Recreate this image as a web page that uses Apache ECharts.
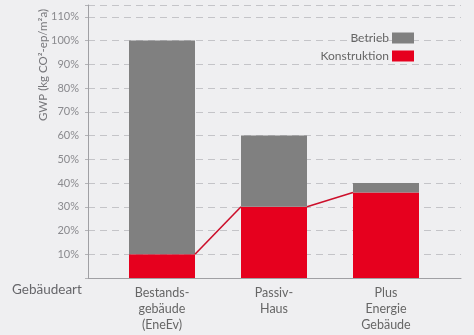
<!DOCTYPE html>
<html>
<head>
<meta charset="utf-8">
<script src="https://cdn.jsdelivr.net/npm/echarts@6/dist/echarts.min.js"></script>
<style>
  html, body { margin: 0; padding: 0; background: #efeff1; }
  #chart { width: 474px; height: 335px; }
</style>
</head>
<body>
<div id="chart"></div>
<script>
// Building types and their global warming potential shares (% of reference)
const categories = ['Bestands-\ngebäude\n(EneEv)', 'Passiv-\nHaus', 'Plus\nEnergie\nGebäude'];
const konstruktion = [10, 30, 36];
const betrieb = [90, 30, 4];
const yTicks = [10, 20, 30, 40, 50, 60, 70, 80, 90, 100, 110];

const FONT = 'Lato, "Open Sans", "DejaVu Sans", sans-serif';
const BAR_W = 66;

const chart = echarts.init(document.getElementById('chart'), null, { renderer: 'canvas' });

chart.setOption({
  backgroundColor: '#efeff1',
  animation: false,
  textStyle: { fontFamily: FONT },
  grid: [
    { left: 88, right: 13, top: 5, bottom: 57 },
    { left: 106, right: 32, top: 5, bottom: 57 }
  ],
  legend: {
    data: ['Betrieb', 'Konstruktion'],
    orient: 'vertical',
    align: 'right',
    right: 55,
    top: 27,
    itemWidth: 22,
    itemHeight: 11,
    itemGap: 6,
    icon: 'rect',
    textStyle: { color: '#666', fontSize: 12, fontFamily: FONT, padding: [0, -2, 0, 0] },
    selectedMode: false
  },
  xAxis: [
    {
      gridIndex: 0, type: 'category', data: categories,
      axisLine: { lineStyle: { color: '#a0a0a4', width: 1 } },
      axisTick: { show: false }, axisLabel: { show: false }
    },
    {
      gridIndex: 1, type: 'category', data: categories,
      axisLine: { show: false }, axisTick: { show: false },
      axisLabel: { color: '#666', fontSize: 12.5, lineHeight: 16, margin: 7, fontFamily: FONT }
    }
  ],
  yAxis: [
    {
      gridIndex: 0, type: 'value', min: 0, max: 115, interval: 10,
      axisLine: { show: true, lineStyle: { color: '#a0a0a4', width: 1 } },
      axisTick: { show: true, length: 3, lineStyle: { color: '#b4b4b8' } },
      splitLine: { show: true, lineStyle: { color: '#c4c4c8', type: [7, 5], width: 1 } },
      axisLabel: {
        color: '#8a8a8e', fontSize: 11, margin: 9, fontFamily: FONT,
        formatter: v => (yTicks.indexOf(v) >= 0 ? v + '%' : '')
      }
    },
    {
      gridIndex: 1, type: 'value', min: 0, max: 115, interval: 10,
      show: false
    }
  ],
  series: [
    {
      name: 'Konstruktion', type: 'bar', stack: 'gwp',
      xAxisIndex: 1, yAxisIndex: 1, barWidth: BAR_W,
      itemStyle: { color: '#e6001e' },
      data: konstruktion
    },
    {
      name: 'Betrieb', type: 'bar', stack: 'gwp',
      xAxisIndex: 1, yAxisIndex: 1, barWidth: BAR_W,
      itemStyle: { color: '#808080' },
      data: betrieb
    },
    {
      // connector from the top of one construction bar to the next
      name: 'verlauf', type: 'custom',
      xAxisIndex: 1, yAxisIndex: 1, z: 5,
      data: konstruktion.map((v, i) => [i, v]),
      renderItem: function (params, api) {
        const i = api.value(0);
        if (i >= konstruktion.length - 1) return null;
        const a = api.coord([i, konstruktion[i]]);
        const b = api.coord([i + 1, konstruktion[i + 1]]);
        return {
          type: 'polyline',
          shape: { points: [[a[0] + BAR_W / 2, a[1]], [b[0] - BAR_W / 2, b[1]]] },
          style: { stroke: '#cc0f2b', lineWidth: 1.6, fill: null }
        };
      }
    }
  ],
  graphic: [
    {
      type: 'text', x: 43, y: 65, rotation: Math.PI / 2,
      style: {
        text: 'GWP (kg CO²-ep/m²a)', fill: '#77777b', fontSize: 11.5,
        fontFamily: FONT, align: 'center', verticalAlign: 'middle'
      }
    },
    {
      type: 'text', x: 12, y: 290,
      style: {
        text: 'Gebäudeart', fill: '#66666a', fontSize: 13.5,
        fontFamily: FONT, align: 'left', verticalAlign: 'middle'
      }
    }
  ]
});
</script>
</body>
</html>
